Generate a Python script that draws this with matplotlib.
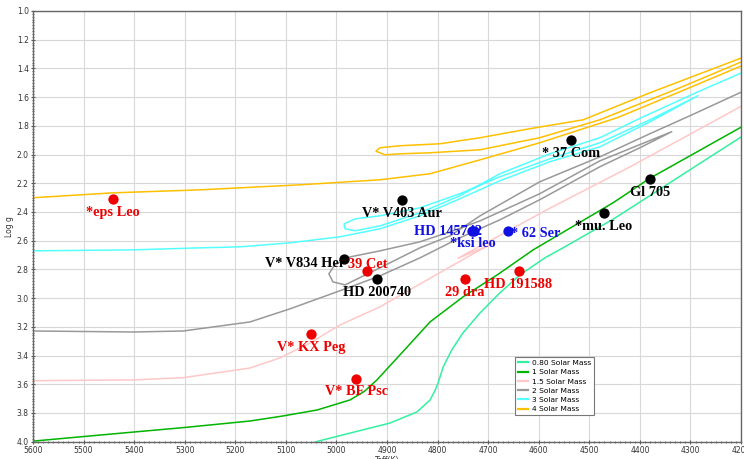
import matplotlib
matplotlib.use("Agg")
import matplotlib.pyplot as plt
from matplotlib.ticker import MultipleLocator, AutoMinorLocator, FormatStrFormatter

# ---- evolutionary tracks (Teff [K], log g) ----
teff_080 = [5072, 5036, 4973, 4894, 4841, 4815, 4806, 4799, 4789, 4772, 4750, 4716, 4677,
            4637, 4588, 4552, 4453, 4380, 4281, 4198, 4150]
logg_080 = [4.037, 3.996, 3.940, 3.870, 3.793, 3.710, 3.650, 3.591, 3.480, 3.361, 3.243, 3.103, 2.964,
            2.838, 2.720, 2.650, 2.451, 2.286, 2.061, 1.874, 1.77]

teff_100 = [5626, 5600, 5402, 5303, 5171, 5106, 5038, 4973, 4945, 4920, 4890, 4860, 4815, 4750,
            4682, 4611, 4453, 4380, 4198, 4150]
logg_100 = [4.004, 3.996, 3.933, 3.902, 3.856, 3.821, 3.779, 3.709, 3.650, 3.570, 3.455, 3.340, 3.166, 2.992,
            2.838, 2.664, 2.336, 2.165, 1.806, 1.71]

teff_150 = [5626, 5600, 5402, 5303, 5171, 5112, 5052, 4993, 4914, 4815, 4716, 4692,
            4760, 4584, 4419, 4241, 4198, 4150]
logg_150 = [3.577, 3.575, 3.570, 3.554, 3.487, 3.417, 3.312, 3.187, 3.061, 2.862, 2.664, 2.623,
            2.723, 2.385, 2.085, 1.744, 1.660, 1.58]

teff_200 = [5626, 5600, 5402, 5303, 5171, 5092, 5038, 4983, 4914, 4835, 4756, 4677, 4598,
            4479, 4400, 4337,
            4479, 4598, 4716, 4775, 4835, 4914, 4973, 5003, 5015, 5007, 4983,
            4914, 4835, 4775, 4716, 4598, 4479, 4380, 4301, 4198, 4150]
logg_200 = [3.229, 3.229, 3.236, 3.229, 3.166, 3.075, 3.006, 2.936, 2.845, 2.720, 2.580, 2.455, 2.315,
            2.085, 1.953, 1.841,
            2.044, 2.273, 2.462, 2.538, 2.608, 2.671, 2.713, 2.768, 2.831, 2.887, 2.908,
            2.789, 2.650, 2.566, 2.427, 2.190, 2.016, 1.855, 1.730, 1.563, 1.49]

teff_300 = [5626, 5600, 5402, 5270, 5191, 5092, 4993, 4914, 4835, 4756, 4677, 4578, 4479,
            4380, 4285,
            4380, 4479, 4578, 4677, 4756, 4835, 4914, 4963, 4985, 4983, 4963,
            4914, 4835, 4756, 4677, 4578, 4479, 4406, 4285, 4198, 4150]
logg_300 = [2.671, 2.671, 2.664, 2.650, 2.643, 2.615, 2.573, 2.517, 2.427, 2.308, 2.183, 2.050, 1.946,
            1.772, 1.590,
            1.758, 1.918, 2.030, 2.155, 2.273, 2.371, 2.427, 2.448, 2.483, 2.517, 2.531,
            2.497, 2.406, 2.287, 2.134, 1.995, 1.883, 1.758, 1.563, 1.430, 1.36]

teff_400 = [5626, 5600, 5442, 5270, 5072, 4914, 4815, 4716, 4598, 4445, 4321, 4198, 4150,
            4150, 4198, 4321, 4479, 4598, 4716, 4815, 4874, 4904, 4922,
            4914, 4874, 4795, 4716, 4617, 4512, 4380, 4198, 4150]
logg_400 = [2.305, 2.301, 2.267, 2.246, 2.211, 2.176, 2.134, 2.037, 1.918, 1.744, 1.563, 1.381, 1.31,
            1.28, 1.353, 1.535, 1.758, 1.883, 1.967, 1.988, 1.995, 2.002, 1.977,
            1.953, 1.939, 1.925, 1.883, 1.820, 1.758, 1.570, 1.326, 1.26]

track_labels = ['0.80 Solar Mass', '1 Solar Mass', '1.5 Solar Mass',
                '2 Solar Mass', '3 Solar Mass', '4 Solar Mass']
track_colors = ['#33f0a0', '#00b400', '#ffc8c8', '#999999', '#55ffff', '#ffc000']

# ---- stars ----
star_names = ['*eps Leo', 'V* KX Peg', 'V* BF Psc', '39 Cet', '29 dra', 'HD 191588',
              'V* V403 Aur', 'V* V834 Her', 'HD 200740', '* 37 Com', 'Gl 705', '*mu. Leo',
              'HD 145742', '*ksi leo', '* 62 Ser']
star_teff = [5442, 5050, 4961, 4940, 4746, 4640,
             4871, 4986, 4920, 4536, 4380, 4471,
             4729, 4731, 4660]
star_logg = [2.31, 3.25, 3.56, 2.81, 2.87, 2.81,
             2.32, 2.73, 2.87, 1.90, 2.17, 2.41,
             2.53, 2.53, 2.53]
star_group = ['red'] * 6 + ['black'] * 6 + ['blue'] * 3

group_colors = {'red': '#ee0000', 'black': '#000000', 'blue': '#1010e0'}

# label placement (offset in points, horizontal alignment); default is centred below
label_place = {
    'V* V834 Her': ((1.4, -2.9), 'right'),
    '39 Cet': ((0.5, 4.8), 'center'),
    'HD 145742': ((5.8, -0.7), 'right'),
    '* 62 Ser': ((2.2, -2.2), 'left'),
}

fig = plt.figure(figsize=(7.44, 4.59), dpi=100)
ax = fig.add_axes([0.0444, 0.0377, 0.9516, 0.9385])

tracks = [(teff_080, logg_080), (teff_100, logg_100), (teff_150, logg_150),
          (teff_200, logg_200), (teff_300, logg_300), (teff_400, logg_400)]
for (t, g), lab, col in zip(tracks, track_labels, track_colors):
    ax.plot(t, g, color=col, lw=1.1, label=lab, zorder=2, solid_joinstyle='round')

for name, t, g, grp in zip(star_names, star_teff, star_logg, star_group):
    col = group_colors[grp]
    ax.scatter(t, g, s=55, color=col, zorder=4, linewidths=0)
    off, ha = label_place.get(name, ((0, -9.5), 'center'))
    ax.annotate(name, (t, g), xytext=off, textcoords='offset points',
                ha=ha, va='center', color=col, fontsize=10.3,
                family='Liberation Serif', fontweight='bold', zorder=5)

ax.set_xlim(5600, 4200)
ax.set_ylim(4.0, 1.0)

ax.xaxis.set_major_locator(MultipleLocator(100))
ax.yaxis.set_major_locator(MultipleLocator(0.2))
ax.yaxis.set_major_formatter(FormatStrFormatter('%.1f'))
ax.xaxis.set_minor_locator(AutoMinorLocator(10))
ax.yaxis.set_minor_locator(AutoMinorLocator(10))
ax.tick_params(which='major', length=3, width=0.8, color='#555555', direction='inout',
               labelsize=5.5, labelcolor='#333333', pad=1.5)
ax.tick_params(which='minor', length=1.5, width=0.6, color='#555555', direction='inout')

ax.grid(True, which='major', color='#d8d8d8', lw=0.8, zorder=0)
ax.set_axisbelow(True)
for sp in ax.spines.values():
    sp.set_color('#666666')
    sp.set_linewidth(1.0)

ax.set_xlabel('Teff(K)', fontsize=5.5, color='#333333', labelpad=1)
ax.set_ylabel('Log g', fontsize=5.5, color='#333333', labelpad=2)

leg = ax.legend(loc='lower left', bbox_to_anchor=(0.681, 0.062), fontsize=5.4,
                frameon=True, fancybox=False, edgecolor='#777777', framealpha=1,
                handlelength=1.4, handletextpad=0.5, borderpad=0.35, labelspacing=0.4,
                borderaxespad=0)
leg.get_frame().set_linewidth(0.8)
for line in leg.get_lines():
    line.set_linewidth(1.6)

fig.savefig('out.png', dpi=100)
